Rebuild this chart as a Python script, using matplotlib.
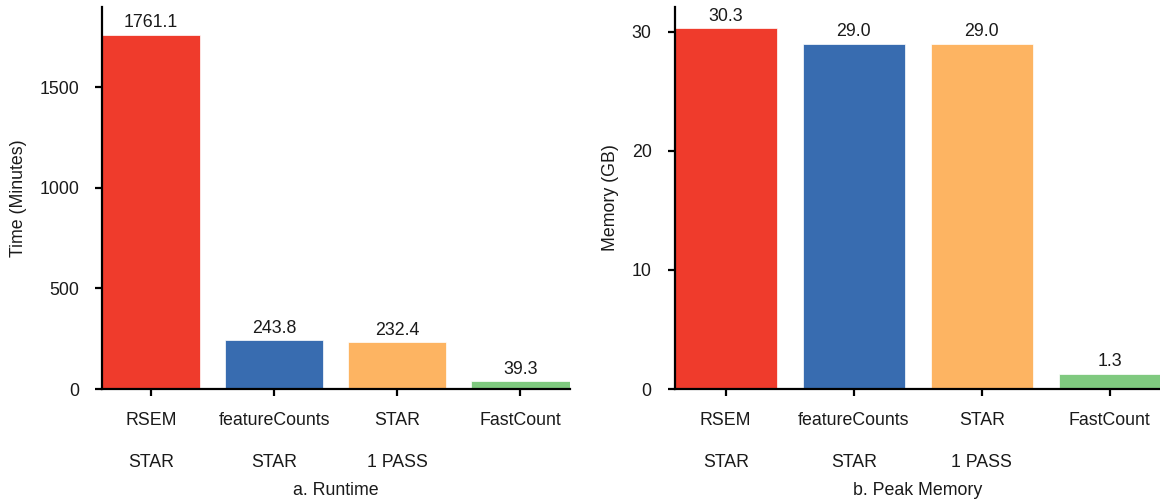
import matplotlib
matplotlib.use("Agg")
import matplotlib.pyplot as plt

plt.rcParams['font.family'] = ['Liberation Sans', 'DejaVu Sans']

tools = ["RSEM\nSTAR", "featureCounts\nSTAR", "STAR\n1 PASS", "FastCount\n"]
runtime_min = [1761.1, 243.8, 232.4, 39.3]
peak_mem_gb = [30.3, 29.0, 29.0, 1.3]
bar_colors = ["#EF3B2C", "#386CB0", "#FDB462", "#7FC97F"]

runtime_ticks = [0, 500, 1000, 1500]
memory_ticks = [0, 10, 20, 30]

FS = 12.8
TXT = "#1a1a1a"

fig = plt.figure(figsize=(11.6, 5.01), dpi=100)
W, H = 1160, 501
ax1 = fig.add_axes([102 / W, 1 - 389 / H, (569.5 - 102) / W, (389 - 7) / H])
ax2 = fig.add_axes([674.5 / W, 1 - 389 / H, (1161 - 674.5) / W, (389 - 7) / H])


def draw(ax, values, yticks, ymax, ylabel, xlabel):
    x = list(range(len(values)))
    bars = ax.bar(x, values, width=0.8, color=bar_colors,
                  edgecolor="white", linewidth=0.5, zorder=2)
    for b, v in zip(bars, values):
        ax.annotate(f"{v:.1f}", (b.get_x() + b.get_width() / 2, v),
                    xytext=(0, 2.5), textcoords="offset points",
                    ha="center", va="bottom", fontsize=FS, color=TXT)
    ax.set_xlim(-0.4, 3.4)
    ax.set_ylim(0, ymax)
    ax.set_yticks(yticks)
    ax.set_xticks(x)
    ax.set_xticklabels(tools)
    for lbl in ax.get_xticklabels():
        lbl.set_linespacing(2.9)
    for s in ("top", "right"):
        ax.spines[s].set_visible(False)
    for s in ("left", "bottom"):
        ax.spines[s].set_linewidth(1.6)
        ax.spines[s].set_color("black")
        ax.spines[s].set_zorder(3)
    ax.tick_params(axis="both", length=5, width=1.6, colors="black",
                   labelsize=FS, labelcolor=TXT, pad=11.5)
    ax.set_ylabel(ylabel, fontsize=FS, color=TXT, labelpad=9)
    ax.set_xlabel(xlabel, fontsize=FS, color=TXT, labelpad=8)


draw(ax1, runtime_min, runtime_ticks, 1900, "Time (Minutes)", "a. Runtime")
draw(ax2, peak_mem_gb, memory_ticks, 32.1, "Memory (GB)", "b. Peak Memory")

fig.savefig("out.png", dpi=100)
